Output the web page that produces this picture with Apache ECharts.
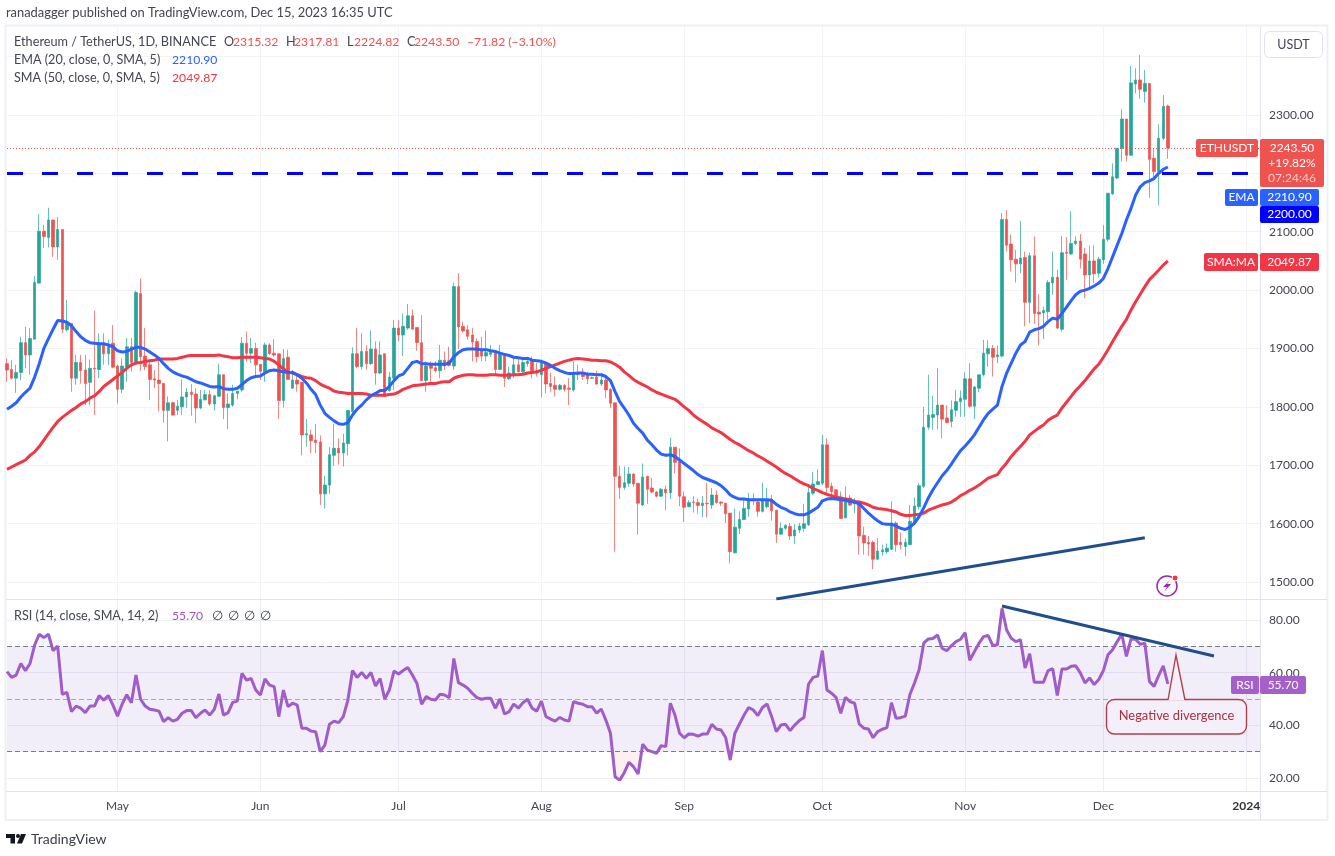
<!DOCTYPE html>
<html>
<head>
<meta charset="utf-8">
<title>ETHUSDT</title>
<script src="https://cdn.jsdelivr.net/npm/echarts@6/dist/echarts.min.js"></script>
<style>
  html, body { margin: 0; padding: 0; background: #fff; }
  #chart { width: 1335px; height: 856px; }
</style>
</head>
<body>
<div id="chart"></div>
<script>
const opens = [
  1874,1864,1849,1859,1910,1889,1916,2012,2101,2090,
  2120,2074,2104,1932,1943,1849,1876,1863,1842,1866,
  1864,1909,1891,1909,1870,1830,1868,1903,1876,1994,
  1887,1872,1848,1846,1840,1794,1807,1794,1800,1817,
  1825,1822,1798,1812,1821,1805,1818,1855,1799,1803,
  1823,1829,1909,1892,1900,1873,1860,1906,1892,1891,
  1811,1885,1832,1846,1842,1752,1752,1743,1740,1651,
  1666,1717,1729,1721,1737,1792,1891,1869,1895,1874,
  1899,1858,1891,1828,1849,1935,1923,1935,1956,1936,
  1910,1845,1872,1867,1862,1880,1879,1870,2006,1938,
  1932,1923,1912,1897,1887,1890,1893,1864,1891,1848,
  1857,1872,1860,1874,1880,1860,1855,1875,1840,1837,
  1830,1837,1832,1829,1859,1856,1855,1849,1851,1839,
  1846,1830,1807,1681,1662,1669,1685,1669,1632,1681,
  1661,1654,1647,1659,1653,1731,1706,1646,1629,1637,
  1636,1631,1635,1632,1649,1637,1635,1618,1550,1592,
  1607,1625,1642,1637,1621,1629,1642,1623,1582,1592,
  1595,1579,1589,1592,1598,1652,1667,1669,1735,1664,
  1658,1645,1610,1644,1634,1635,1580,1568,1568,1539,
  1552,1552,1556,1601,1568,1561,1564,1602,1629,1664,
  1765,1782,1786,1803,1781,1775,1794,1809,1813,1848,
  1801,1832,1855,1891,1900,1886,1887,2121,2079,2053,
  2045,2056,1979,2059,1962,1961,1963,2012,2022,1933,
  2065,2062,2080,2084,2062,2026,2050,2029,2052,2087,
  2165,2192,2243,2293,2231,2353,2360,2340,2354,2226,
  2203,2260,2315.32
];
const closes = [
  1863,1849,1859,1910,1889,1917,2013,2101,2092,2120,
  2074,2104,1933,1943,1849,1876,1862,1840,1866,1865,
  1909,1891,1903,1868,1830,1870,1903,1876,1996,1886,
  1869,1847,1846,1840,1794,1807,1786,1801,1817,1825,
  1821,1798,1813,1821,1805,1819,1855,1799,1805,1823,
  1827,1909,1892,1900,1872,1861,1906,1891,1889,1811,
  1883,1847,1846,1839,1752,1754,1742,1739,1651,1666,
  1718,1729,1721,1738,1794,1891,1869,1895,1874,1899,
  1858,1889,1818,1851,1935,1923,1938,1956,1933,1910,
  1845,1870,1866,1862,1880,1870,1871,2006,1937,1930,
  1921,1911,1886,1887,1893,1893,1864,1891,1849,1858,
  1872,1860,1876,1878,1859,1858,1875,1839,1835,1830,
  1837,1830,1830,1859,1855,1852,1848,1850,1839,1846,
  1829,1806,1681,1662,1670,1685,1668,1635,1680,1659,
  1654,1647,1659,1653,1731,1705,1647,1628,1636,1636,
  1631,1635,1634,1649,1636,1635,1617,1552,1594,1607,
  1626,1641,1640,1621,1640,1642,1622,1582,1592,1597,
  1579,1589,1596,1600,1653,1668,1672,1735,1662,1655,
  1644,1609,1644,1632,1640,1579,1567,1565,1539,1553,
  1555,1558,1601,1564,1564,1568,1604,1630,1665,1765,
  1786,1787,1803,1779,1773,1795,1809,1815,1848,1801,
  1834,1855,1892,1900,1885,1889,2121,2077,2052,2045,
  2055,1979,2059,1960,1959,1965,2013,2022,1935,2064,
  2063,2080,2084,2053,2026,2050,2028,2053,2087,2166,
  2194,2243,2293,2231,2355,2360,2344,2354,2224,2203,
  2260,2315,2243.5
];
const lows = [
  1843,1847,1824,1846,1866,1855,1916,2010,2072,2073,
  2057,2052,1926,1929,1826,1838,1840,1803,1803,1786,
  1849,1872,1872,1866,1806,1823,1843,1860,1876,1862,
  1863,1812,1832,1792,1773,1741,1785,1786,1786,1798,
  1785,1772,1796,1811,1802,1794,1817,1779,1762,1800,
  1813,1826,1877,1875,1852,1846,1843,1889,1886,1779,
  1799,1846,1831,1826,1717,1732,1721,1721,1632,1626,
  1651,1699,1701,1698,1717,1790,1866,1864,1864,1872,
  1838,1856,1818,1826,1829,1912,1887,1932,1933,1896,
  1845,1826,1843,1859,1849,1863,1869,1863,1899,1927,
  1915,1878,1876,1878,1878,1885,1855,1863,1834,1846,
  1849,1859,1858,1869,1849,1852,1816,1823,1826,1818,
  1828,1826,1803,1826,1846,1846,1839,1848,1838,1836,
  1815,1798,1552,1642,1658,1663,1663,1581,1630,1634,
  1652,1645,1646,1623,1642,1686,1630,1603,1628,1619,
  1617,1611,1611,1625,1634,1630,1601,1532,1549,1582,
  1606,1612,1632,1612,1619,1626,1605,1567,1581,1589,
  1572,1565,1584,1586,1596,1649,1666,1666,1649,1646,
  1641,1608,1609,1630,1618,1547,1547,1545,1522,1538,
  1545,1548,1555,1552,1556,1544,1563,1600,1624,1661,
  1761,1761,1762,1746,1772,1765,1783,1783,1783,1799,
  1779,1825,1852,1869,1852,1875,1885,2066,2032,2013,
  2029,1938,1943,1942,1905,1916,1949,1992,1933,1929,
  2017,2060,2077,2037,1986,2005,2012,2022,2045,2083,
  2163,2190,2220,2220,2230,2337,2328,2321,2158,2189,
  2146,2257,2224.82
];
const highs = [
  1883,1880,1872,1920,1937,1935,2024,2130,2112,2141,
  2121,2125,2104,1983,1943,1889,1889,1889,1881,1965,
  1926,1926,1915,1940,1872,1883,1918,1918,1999,2020,
  1935,1880,1863,1883,1841,1818,1809,1812,1847,1832,
  1839,1832,1829,1829,1829,1821,1874,1855,1823,1838,
  1827,1920,1929,1918,1910,1873,1910,1909,1916,1891,
  1899,1898,1863,1858,1843,1779,1761,1771,1751,1682,
  1731,1771,1746,1754,1794,1902,1935,1926,1906,1931,
  1912,1912,1891,1860,1949,1949,1960,1976,1967,1936,
  1957,1878,1878,1878,1906,1895,1903,2013,2029,1946,
  1940,1935,1917,1920,1931,1906,1897,1906,1891,1869,
  1886,1886,1885,1886,1886,1875,1878,1878,1859,1852,
  1839,1839,1849,1878,1872,1866,1860,1852,1862,1858,
  1855,1832,1807,1699,1698,1697,1686,1670,1703,1682,
  1678,1656,1661,1665,1747,1731,1729,1655,1640,1647,
  1643,1647,1670,1661,1657,1638,1636,1618,1626,1621,
  1643,1653,1652,1640,1670,1661,1649,1624,1602,1599,
  1601,1599,1601,1634,1666,1689,1693,1752,1746,1670,
  1658,1655,1664,1649,1644,1638,1595,1579,1571,1575,
  1564,1566,1638,1604,1585,1575,1632,1645,1669,1800,
  1855,1819,1866,1803,1803,1811,1829,1828,1859,1875,
  1836,1855,1915,1914,1906,1905,2132,2137,2095,2069,
  2119,2066,2064,2092,1993,1972,2017,2066,2035,2093,
  2091,2135,2092,2096,2072,2076,2077,2057,2111,2166,
  2217,2243,2310,2293,2384,2380,2403,2377,2354,2243,
  2284,2334,2317.81
];
const ema20 = [
  1796,1801,1807,1817,1825,1832,1851,1874,1900,1917,
  1933,1948,1947,1945,1939,1929,1920,1914,1910,1909,
  1908,1908,1906,1903,1896,1894,1895,1899,1902,1902,
  1899,1894,1889,1883,1874,1866,1860,1856,1853,1851,
  1847,1843,1841,1838,1835,1834,1835,1831,1830,1830,
  1832,1838,1845,1850,1852,1853,1858,1862,1863,1862,
  1860,1859,1859,1855,1849,1841,1830,1821,1803,1789,
  1782,1776,1771,1770,1773,1786,1796,1803,1812,1819,
  1823,1828,1828,1835,1845,1853,1856,1866,1876,1878,
  1874,1874,1873,1873,1873,1873,1875,1886,1893,1898,
  1899,1899,1899,1898,1898,1896,1895,1892,1890,1888,
  1885,1884,1883,1883,1880,1879,1878,1875,1871,1866,
  1862,1859,1857,1857,1858,1858,1856,1856,1855,1855,
  1852,1845,1826,1809,1798,1786,1772,1763,1755,1743,
  1735,1726,1719,1717,1718,1715,1709,1703,1697,1691,
  1684,1679,1676,1673,1670,1665,1658,1649,1645,1642,
  1642,1641,1641,1641,1641,1641,1640,1633,1628,1625,
  1620,1617,1615,1615,1618,1623,1628,1639,1642,1643,
  1642,1641,1640,1638,1637,1634,1626,1618,1611,1605,
  1600,1599,1599,1596,1592,1590,1594,1601,1612,1627,
  1644,1658,1670,1682,1691,1702,1714,1725,1733,1742,
  1752,1765,1778,1789,1796,1803,1835,1858,1875,1892,
  1906,1912,1928,1932,1934,1938,1946,1952,1950,1960,
  1971,1982,1992,1998,2000,2003,2007,2012,2020,2037,
  2057,2077,2097,2120,2140,2163,2177,2184,2187,2191,
  2200,2207,2210.9
];
const sma50 = [
  1693,1697,1701,1705,1709,1717,1723,1732,1743,1754,
  1765,1775,1782,1788,1794,1799,1805,1809,1815,1819,
  1826,1835,1841,1847,1853,1859,1866,1872,1875,1876,
  1878,1879,1880,1882,1882,1882,1882,1883,1885,1887,
  1888,1888,1888,1888,1888,1888,1889,1887,1886,1884,
  1884,1885,1885,1885,1885,1884,1883,1882,1878,1872,
  1865,1860,1858,1855,1852,1850,1849,1845,1839,1835,
  1832,1827,1825,1824,1823,1823,1823,1823,1822,1820,
  1820,1820,1820,1821,1822,1825,1830,1833,1836,1837,
  1838,1839,1840,1840,1842,1843,1843,1849,1852,1854,
  1855,1855,1854,1854,1854,1855,1855,1854,1854,1854,
  1855,1855,1856,1858,1859,1860,1863,1866,1869,1872,
  1875,1878,1880,1882,1883,1882,1881,1880,1880,1879,
  1879,1877,1873,1868,1860,1854,1847,1842,1838,1834,
  1829,1825,1822,1819,1816,1813,1807,1800,1794,1786,
  1780,1775,1770,1764,1760,1756,1750,1744,1739,1735,
  1730,1725,1721,1716,1712,1707,1702,1697,1691,1686,
  1682,1677,1672,1668,1665,1660,1657,1653,1650,1648,
  1645,1644,1642,1641,1638,1637,1635,1632,1628,1626,
  1625,1624,1622,1620,1616,1614,1614,1615,1616,1618,
  1623,1626,1629,1632,1634,1637,1642,1648,1652,1657,
  1661,1666,1672,1678,1681,1684,1695,1704,1715,1724,
  1732,1741,1752,1758,1764,1769,1777,1782,1786,1798,
  1808,1818,1828,1836,1845,1855,1865,1873,1885,1898,
  1912,1925,1938,1950,1966,1980,1993,2006,2018,2026,
  2034,2043,2049.87
];
const rsi14 = [
  60.4,58.2,59.1,63.5,60.8,63.5,70.5,74.6,73.3,74.6,
  68.4,70.1,51.8,52.5,45.2,47.3,46.5,44.8,47.3,47.3,
  51.3,49.6,51.3,47.7,43.5,48.1,51.6,48.6,59.1,49.9,
  47.3,46.1,45.8,45.4,41.4,42.9,41.6,42.3,44.6,45.6,
  45.6,42.9,44.6,45.8,43.9,46.1,51.9,43.9,44.8,48.7,
  49.2,59.7,57.2,57.8,53.4,51.5,57.6,55.3,54.7,43.3,
  53.4,47.1,48.4,47.7,38.9,38.9,37.8,37.6,30,32.5,
  40.4,41.6,41,43.3,49.6,60.8,58.2,60.1,57.8,60.1,
  54.9,57.8,50,53.4,60.6,59.5,60.8,62,59.1,55.9,
  48,50.9,49.9,49.6,51.8,51.5,50.5,65.4,56.2,55.3,
  54.1,52.2,50.5,49.9,50.3,50.3,46.5,50,44.3,45.2,
  48.1,46.5,48.6,49.9,46.5,45.4,49.2,43.3,42.4,41.6,
  43,42,41.6,49,48.4,48,47.1,47.1,44.6,46.2,
  42,37,20.5,19.2,22,25.9,24.3,21.5,32.8,30.6,
  30,29.4,32.3,31.9,48.4,43.9,37,35.3,36.7,36.6,
  35.9,36.7,36.7,40.4,38.6,38.2,35.4,26.8,37,40.5,
  43.9,46.8,45.8,43.7,46.8,48.1,43.3,37.6,40.1,40.4,
  38,40.1,41.8,43,55.7,58.2,58.7,68.4,53.4,52.2,
  50.5,44.6,50.6,49,48.4,40.5,38.9,38.6,35.3,37.6,
  38.5,39.1,48.6,42.7,42.9,43.5,51.7,56.1,61.1,71.2,
  72.8,73,74.3,69.3,68.3,70.2,71.8,72.7,75.2,64.7,
  68,71.2,73.7,74.1,70.3,70.6,84.4,76.2,73.1,71.8,
  72.5,61.8,67.2,56.4,56.4,56.4,60.8,61.5,51.3,61.4,
  61.4,62.4,62.6,59.9,56.1,58,55.5,57.4,60.8,66.8,
  68.7,71.8,74.7,66.2,72.8,72.7,70.8,71.2,56.7,54.8,
  58.9,62.6,55.7
];
const priceTicks = [1500, 1600, 1700, 1800, 1900, 2000, 2100, 2200, 2300, 2400];
const priceLabels = [1500, 1600, 1700, 1800, 1900, 2000, 2100, 2200, 2300];
const rsiTicks = [20, 40, 60, 80];
const monthLabels = { '2023-05-01': 'May', '2023-06-01': 'Jun', '2023-07-01': 'Jul', '2023-08-01': 'Aug',
  '2023-09-01': 'Sep', '2023-10-01': 'Oct', '2023-11-01': 'Nov', '2023-12-01': 'Dec', '2024-01-01': '2024' };

// one slot per calendar day, the axis runs on past the last candle
const categories = [];
for (let i = 0; i < 273; i++) {
  categories.push(new Date(Date.UTC(2023, 3, 7 + i)).toISOString().slice(0, 10));
}
const candles = opens.map((o, i) => [o, closes[i], lows[i], highs[i]]);
const isMonth = (i, name) => name in monthLabels;

const FONT = 'Lato, "Open Sans", sans-serif';
const gridColor = '#f1f3f8';
const edgeColor = '#e0e3eb';
const textColor = '#444650';

const text = (x, y, s, fill, size, opts) => ({
  type: 'text', z: 100, silent: true,
  style: Object.assign({ x, y, text: s, fill: fill || textColor, font: (size || 12.6) + 'px ' + FONT,
    textAlign: 'left', textVerticalAlign: 'middle' }, opts || {})
});
const box = (x, y, w, h, fill) => ({
  type: 'rect', z: 99, silent: true, shape: { x, y, width: w, height: h, r: 2 }, style: { fill }
});
const tag = (x, y, w, h, fill, s) => [box(x, y, w, h, fill),
  text(x + w / 2, y + h / 2, s, '#fff', 12, { textAlign: 'center' })];

const graphics = [
  // frame around panes
  { type: 'rect', z: 1, silent: true, shape: { x: 5.5, y: 25.5, width: 1322, height: 794.5 }, style: { fill: 'none', stroke: '#eef0f5', lineWidth: 2 } },
  { type: 'line', z: 1, silent: true, shape: { x1: 6, y1: 599.5, x2: 1327, y2: 599.5 }, style: { stroke: edgeColor, lineWidth: 1 } },
  { type: 'line', z: 1, silent: true, shape: { x1: 6, y1: 791.5, x2: 1327, y2: 791.5 }, style: { stroke: edgeColor, lineWidth: 1 } },
  { type: 'line', z: 1, silent: true, shape: { x1: 1260.5, y1: 26, x2: 1260.5, y2: 820 }, style: { stroke: edgeColor, lineWidth: 1 } },

  text(6, 13, 'ranadagger published on TradingView.com, Dec 15, 2023 16:35 UTC', textColor, 12.9),

  // legend
  text(14, 42, 'Ethereum / TetherUS, 1D, BINANCE', textColor, 12.7),
  text(224, 42, 'O'), text(233, 42, '2315.32', '#ef5350', 12.2),
  text(286, 42, 'H'), text(294, 42, '2317.81', '#ef5350', 12.2),
  text(347, 42, 'L'), text(354, 42, '2224.82', '#ef5350', 12.2),
  text(407, 42, 'C'), text(414, 42, '2243.50', '#ef5350', 12.2),
  text(467, 42, '\u221271.82 (\u22123.10%)', '#ef5350', 12.2),
  text(14, 60, 'EMA (20, close, 0, SMA, 5)'), text(172, 60, '2210.90', '#2962ff', 12.2),
  text(14, 78, 'SMA (50, close, 0, SMA, 5)'), text(172, 78, '2049.87', '#f23645', 12.2),
  text(14, 616, 'RSI (14, close, SMA, 14, 2)'), text(172, 616, '55.70', '#9c55c3', 12.2),
  text(212, 616, '\u2205'), text(228, 616, '\u2205'), text(244, 616, '\u2205'), text(260, 616, '\u2205'),

  // USDT button
  { type: 'rect', z: 99, silent: true, shape: { x: 1264.5, y: 31.5, width: 58, height: 26, r: 5 }, style: { fill: '#fff', stroke: edgeColor, lineWidth: 1 } },
  text(1293.5, 44.5, 'USDT', textColor, 12.5, { textAlign: 'center' }),

  // last price tags
  ...tag(1196, 139, 62, 18, '#ef5350', 'ETHUSDT'),
  box(1260, 139, 64, 48, '#ef5350'),
  text(1292, 148, '2243.50', '#fff', 12, { textAlign: 'center' }),
  text(1292, 163, '+19.82%', '#fff', 12, { textAlign: 'center' }),
  text(1292, 178, '07:24:46', 'rgba(255,255,255,0.7)', 12, { textAlign: 'center' }),
  ...tag(1225, 189, 33, 17, '#2962ff', 'EMA'),
  ...tag(1260, 189, 59, 17, '#2962ff', '2210.90'),
  ...tag(1260, 206, 59, 17, '#0000ff', '2200.00'),
  ...tag(1204, 253, 54, 18, '#f23645', 'SMA:MA'),
  ...tag(1260, 253, 59, 18, '#f23645', '2049.87'),
  ...tag(1231, 676, 28, 18, '#a45fc9', 'RSI'),
  ...tag(1260, 676, 46, 18, '#a45fc9', '55.70'),

  // lightning badge
  { type: 'circle', z: 99, silent: true, shape: { cx: 1167, cy: 586, r: 10 }, style: { fill: 'none', stroke: '#9c27b0', lineWidth: 1.5 } },
  { type: 'polygon', z: 99, silent: true, shape: { points: [[1170, 580], [1163, 587], [1167, 587], [1164, 592], [1171, 584], [1167, 584]] }, style: { fill: '#9c27b0' } },
  { type: 'circle', z: 99, silent: true, shape: { cx: 1175, cy: 578, r: 3 }, style: { fill: '#f23645', stroke: '#fff', lineWidth: 1 } },

  // negative divergence callout
  { type: 'rect', z: 96, silent: true, shape: { x: 1106.5, y: 699.5, width: 140, height: 34.5, r: 8 }, style: { fill: '#f4eff8', stroke: '#b2414f', lineWidth: 1.4 } },
  { type: 'polygon', z: 97, silent: true, shape: { points: [[1168, 700.5], [1176, 655], [1185, 700.5]] }, style: { fill: '#f4eff8' } },
  { type: 'polyline', z: 97, silent: true, shape: { points: [[1168, 700], [1176, 655], [1185, 700]] }, style: { fill: 'none', stroke: '#b2414f', lineWidth: 1.4 } },
  text(1176.5, 716, 'Negative divergence', '#a8323f', 12.9, { textAlign: 'center' }),

  // footer logo
  { type: 'rect', z: 99, silent: true, shape: { x: 6, y: 834, width: 9, height: 4 }, style: { fill: '#131722' } },
  { type: 'rect', z: 99, silent: true, shape: { x: 10.5, y: 834, width: 4.5, height: 9.5 }, style: { fill: '#131722' } },
  { type: 'circle', z: 99, silent: true, shape: { cx: 18, cy: 836, r: 2 }, style: { fill: '#131722' } },
  { type: 'polygon', z: 99, silent: true, shape: { points: [[21, 834], [26, 834], [22, 843.5], [17, 843.5]] }, style: { fill: '#131722' } },
  text(31, 839, 'TradingView', '#3a3d46', 14)
];

const chart = echarts.init(document.getElementById('chart'));
chart.setOption({
  animation: false,
  backgroundColor: '#fff',
  textStyle: { fontFamily: FONT },
  graphic: { elements: graphics },
  grid: [
    { left: 7, right: 75, top: 26, height: 573 },
    { left: 7, right: 75, top: 600, height: 191 }
  ],
  xAxis: [
    {
      type: 'category', gridIndex: 0, data: categories, boundaryGap: false,
      axisLine: { show: false }, axisTick: { show: false }, axisLabel: { show: false },
      splitLine: { show: true, interval: isMonth, lineStyle: { color: gridColor } }
    },
    {
      type: 'category', gridIndex: 1, data: categories, boundaryGap: false,
      axisLine: { show: false }, axisTick: { show: false },
      axisLabel: {
        interval: isMonth, margin: 9, color: textColor, fontSize: 12, fontFamily: FONT, hideOverlap: false,
        formatter: (v) => (monthLabels[v] === '2024' ? '{b|2024}' : monthLabels[v] || ''),
        rich: { b: { fontWeight: 'bold', fontSize: 12, color: '#333', fontFamily: FONT } }
      },
      splitLine: { show: true, interval: isMonth, lineStyle: { color: '#eceef4' } }
    }
  ],
  yAxis: [
    {
      type: 'value', gridIndex: 0, position: 'right', min: 1470.9, max: 2452.4, scale: true,
      axisLine: { show: false },
      axisTick: { show: false, customValues: priceTicks },
      axisLabel: { customValues: priceLabels, margin: 9, color: textColor, fontSize: 12, fontFamily: FONT, formatter: (v) => v.toFixed(2) },
      splitLine: { show: true, lineStyle: { color: gridColor } }
    },
    {
      type: 'value', gridIndex: 1, position: 'right', min: 15.06, max: 87.6,
      axisLine: { show: false },
      axisTick: { show: false, customValues: rsiTicks },
      axisLabel: { customValues: rsiTicks, margin: 9, color: textColor, fontSize: 12, fontFamily: FONT, formatter: (v) => v.toFixed(2) },
      splitLine: { show: true, lineStyle: { color: '#eceef4' } }
    }
  ],
  series: [
    {
      name: 'ETHUSDT', type: 'candlestick', xAxisIndex: 0, yAxisIndex: 0, data: candles, barWidth: 3, z: 3,
      itemStyle: { color: '#26a69a', color0: '#ef5350', borderColor: 'rgba(38,166,154,0.7)', borderColor0: 'rgba(239,83,80,0.7)', borderWidth: 1 },
      markLine: {
        silent: true, symbol: 'none', animation: false, label: { show: false },
        data: [
          { yAxis: 2243.5, lineStyle: { color: '#ef5350', width: 1, type: [1, 2] } },
          { yAxis: 2200, lineStyle: { color: '#0000ff', width: 3, type: [16, 19] } }
        ]
      }
    },
    { name: 'SMA 50', type: 'line', xAxisIndex: 0, yAxisIndex: 0, data: sma50, showSymbol: false, z: 4, lineStyle: { color: '#f23645', width: 3 } },
    { name: 'EMA 20', type: 'line', xAxisIndex: 0, yAxisIndex: 0, data: ema20, showSymbol: false, z: 5, lineStyle: { color: '#2962ff', width: 3 } },
    {
      name: 'Price trend', type: 'line', xAxisIndex: 0, yAxisIndex: 0, showSymbol: false, z: 6,
      data: [[categories[167], 1471], [categories[247], 1575.7]], lineStyle: { color: '#1f4e8c', width: 3 }
    },
    {
      name: 'Oversold', type: 'line', xAxisIndex: 1, yAxisIndex: 1, showSymbol: false, z: 3,
      data: rsi14.map((v) => Math.min(v, 30)), lineStyle: { width: 0 },
      areaStyle: { origin: 30, color: 'rgba(247,150,120,0.2)' }
    },
    {
      name: 'Overbought', type: 'line', xAxisIndex: 1, yAxisIndex: 1, showSymbol: false, z: 3,
      data: rsi14.map((v) => Math.max(v, 70)), lineStyle: { width: 0 },
      areaStyle: { origin: 70, color: 'rgba(38,166,154,0.1)' }
    },
    {
      name: 'RSI', type: 'line', xAxisIndex: 1, yAxisIndex: 1, data: rsi14, showSymbol: false, z: 5,
      lineStyle: { color: '#a05cc8', width: 3 },
      markArea: { silent: true, animation: false, itemStyle: { color: 'rgba(126,87,194,0.1)' }, data: [[{ yAxis: 30 }, { yAxis: 70 }]] },
      markLine: {
        silent: true, symbol: 'none', animation: false, label: { show: false },
        data: [
          { yAxis: 70, lineStyle: { color: '#787b86', width: 1, type: [5, 3] } },
          { yAxis: 50, lineStyle: { color: 'rgba(120,123,134,0.6)', width: 1, type: [5, 3] } },
          { yAxis: 30, lineStyle: { color: '#787b86', width: 1, type: [5, 3] } }
        ]
      }
    },
    {
      name: 'RSI trend', type: 'line', xAxisIndex: 1, yAxisIndex: 1, showSymbol: false, z: 6,
      data: [[categories[216], 85.3], [categories[262], 66.3]], lineStyle: { color: '#1f4e8c', width: 3 }
    }
  ]
});
</script>
</body>
</html>
